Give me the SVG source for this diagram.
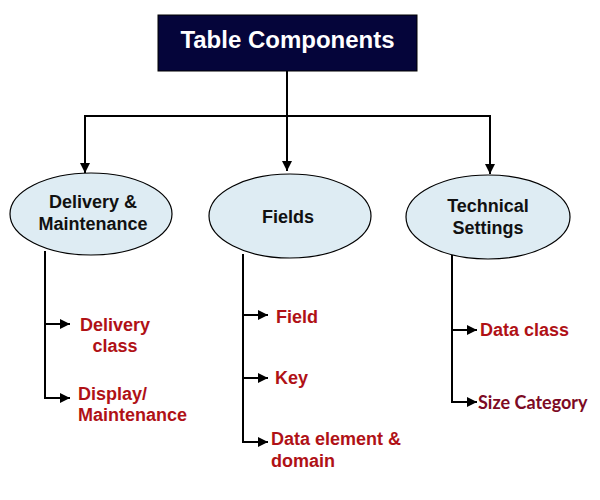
<svg xmlns="http://www.w3.org/2000/svg" width="600" height="500" viewBox="0 0 600 500">
<style>
.ln{fill:none;stroke:#000;stroke-width:2}
.el{fill:#deecf3;stroke:#000;stroke-width:1.2}
.nt{font-family:"Liberation Sans",Arial,sans-serif;font-weight:bold;font-size:18px;fill:#111;text-anchor:middle}
.lb{font-family:"Liberation Sans",Arial,sans-serif;font-weight:bold;font-size:18px;fill:#b01116}
.lb2{font-family:Lato,"Liberation Sans",sans-serif;font-weight:bold;font-size:18px;fill:#7d0a24}
</style>
<defs>
<marker id="ah" viewBox="0 0 10 10" refX="10" refY="5" markerWidth="5" markerHeight="5" orient="auto" markerUnits="strokeWidth">
<path d="M0,0 L10,5 L0,10 Z" fill="#000"/>
</marker>
</defs>
<rect width="600" height="500" fill="#fff"/>
<g id="connectors">
<path class="ln" d="M287,71 V171" marker-end="url(#ah)"/>
<path class="ln" d="M85,173 V116 H490 V174" marker-end="url(#ah)"/>
<path class="ln" d="M85,116 V173" marker-end="url(#ah)"/>
<path class="ln" d="M45,251 V398 H70" marker-end="url(#ah)"/>
<path class="ln" d="M45,324 H70" marker-end="url(#ah)"/>
<path class="ln" d="M243,254 V442 H268" marker-end="url(#ah)"/>
<path class="ln" d="M243,315 H268" marker-end="url(#ah)"/>
<path class="ln" d="M243,378 H268" marker-end="url(#ah)"/>
<path class="ln" d="M452,255 V402 H477" marker-end="url(#ah)"/>
<path class="ln" d="M452,330 H477" marker-end="url(#ah)"/>
</g>
<g id="title">
<rect x="158" y="15" width="259" height="56" fill="#05053a" stroke="#000" stroke-width="1"/>
<text x="287.5" y="48" font-family="Liberation Sans,Arial,sans-serif" font-weight="bold" font-size="24" fill="#fff" text-anchor="middle">Table Components</text>
</g>
<g id="delivery">
<ellipse class="el" cx="91" cy="214" rx="81" ry="41"/>
<text class="nt" x="93" y="208">Delivery &amp;</text>
<text class="nt" x="93" y="230">Maintenance</text>
</g>
<g id="fields">
<ellipse class="el" cx="290" cy="216" rx="81" ry="42"/>
<text class="nt" x="288" y="223">Fields</text>
</g>
<g id="technical">
<ellipse class="el" cx="488" cy="217" rx="82" ry="42"/>
<text class="nt" x="488" y="212">Technical</text>
<text class="nt" x="488" y="234">Settings</text>
</g>
<g id="delivery-class">
<text class="lb" x="115" y="331" text-anchor="middle">Delivery</text>
<text class="lb" x="115" y="352" text-anchor="middle">class</text>
</g>
<g id="display-maintenance">
<text class="lb" x="78" y="400">Display/</text>
<text class="lb" x="78" y="421">Maintenance</text>
</g>
<g id="field">
<text class="lb" x="276" y="323">Field</text>
</g>
<g id="key">
<text class="lb" x="275" y="384">Key</text>
</g>
<g id="data-element">
<text class="lb" x="271" y="445">Data element &amp;</text>
<text class="lb" x="271" y="467">domain</text>
</g>
<g id="data-class">
<text class="lb" x="480" y="336">Data class</text>
</g>
<g id="size-category">
<text class="lb2" x="478" y="409">Size Category</text>
</g>
</svg>
